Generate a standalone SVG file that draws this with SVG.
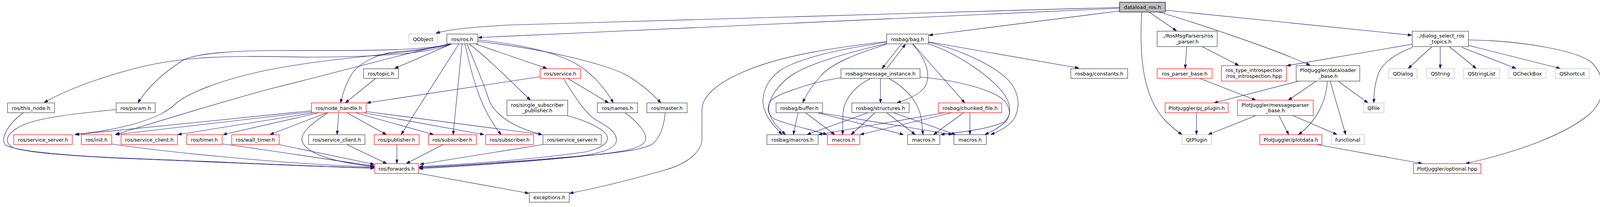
<svg xmlns="http://www.w3.org/2000/svg" width="4109" height="529" viewBox="0 0 4109 529">
<style>
.nd rect{fill:#fff;stroke:#404040;stroke-width:1.2}
.nd.red rect{stroke:#ff0000}
.nd.gray rect{stroke:#bfbfbf}
.nd.main rect{fill:#bfbfbf;stroke:#000}
.nd text{font-family:"DejaVu Sans","Liberation Sans",sans-serif;font-size:12.9px;text-anchor:middle;fill:#000}
#edges path{fill:none;stroke:#191970;stroke-width:1.1;marker-end:url(#ah)}
</style>
<defs>
<marker id="ah" viewBox="0 0 10 7" refX="10" refY="3.5" markerWidth="10" markerHeight="7" orient="auto" markerUnits="userSpaceOnUse">
<path d="M0,0 L10,3.5 L0,7z" fill="#191970" stroke="#191970" stroke-width="1"/>
</marker>
</defs>
<rect x="0" y="0" width="4109" height="529" fill="#fff"/>
<g id="edges">
<path d="M2866,19 C2200,37 1500,54 1300,64 C1200,70 1150,75 1116,85"/>
<path d="M2866,21 L1224,96"/>
<path d="M2866,28 L2378,90"/>
<path d="M2942,31 L3012,79"/>
<path d="M2968,31 C3050,55 3250,120 3354,167"/>
<path d="M2983,26 L3614,90"/>
<path d="M2923,31 C2916,140 2925,250 2985,310 C3000,325 3012,335 3026,344"/>
<path d="M3038,119 L3034,175"/>
<path d="M3077,119 L3171,167"/>
<path d="M3070,200 L3215,256"/>
<path d="M3326,207 L3108,263"/>
<path d="M3370,207 L3298,256"/>
<path d="M3398,207 C3395,260 3370,310 3324,344"/>
<path d="M3425,207 L3502,263"/>
<path d="M3405,207 L3445,344"/>
<path d="M3063,288 L3063,344"/>
<path d="M3216,295 L3093,344"/>
<path d="M3274,295 L3299,344"/>
<path d="M3309,295 L3423,344"/>
<path d="M3368,369 L3641,418"/>
<path d="M3615,113 L3294,168"/>
<path d="M3616,121 C3570,138 3540,162 3530,185 C3520,210 3517,240 3517,263"/>
<path d="M3666,119 L3605,175"/>
<path d="M3687,119 L3687,175"/>
<path d="M3710,119 L3779,175"/>
<path d="M3742,121 L3881,175"/>
<path d="M3759,116 L3994,175"/>
<path d="M3759,102 C3900,104 4040,130 4075,160 C4115,200 4110,260 4065,295 C4010,340 3900,385 3752,418"/>
<path d="M2308,112 L2258,175"/>
<path d="M2270,175 L2318,113"/>
<path d="M2270,113 C2200,135 2130,160 2100,195 C2080,218 2065,240 2055,262"/>
<path d="M2335,112 C2370,150 2385,190 2368,222 C2350,245 2320,255 2296,263"/>
<path d="M2337,112 L2470,263"/>
<path d="M2377,107 L2762,174"/>
<path d="M2377,108 C2470,130 2560,175 2590,215 C2610,245 2610,275 2598,300 C2585,322 2560,335 2536,344"/>
<path d="M2377,112 C2460,140 2540,200 2570,240 C2590,268 2588,295 2575,310 C2560,325 2540,336 2521,344"/>
<path d="M2355,197 C2450,205 2550,230 2575,262 C2590,285 2585,300 2570,312 C2530,330 2460,338 2408,344"/>
<path d="M2270,106 C2150,120 2000,140 1900,185 C1830,215 1797,250 1797,280 L1797,360 C1790,400 1740,425 1700,435 C1620,458 1530,480 1458,494"/>
<path d="M2270,108 C2150,125 2050,148 2000,178 C1968,200 1953,230 1953,260 C1955,295 1980,320 2002,344"/>
<path d="M2270,111 C2150,140 2050,168 2010,205 C1985,228 1967,255 1968,280 C1970,305 1990,325 2011,344"/>
<path d="M2153,199 C2100,205 2000,235 1975,255 C1960,275 1965,295 1985,305 C2020,320 2080,332 2117,344"/>
<path d="M2230,200 C2180,225 2160,260 2158,290 L2157,344"/>
<path d="M2254,200 L2254,263"/>
<path d="M2275,200 C2320,225 2350,260 2358,300 L2363,344"/>
<path d="M2043,288 L2031,344"/>
<path d="M2062,288 L2137,344"/>
<path d="M2092,288 L2313,344"/>
<path d="M2097,288 L2438,344"/>
<path d="M2222,288 L2066,344"/>
<path d="M2240,288 L2179,344"/>
<path d="M2270,288 L2343,344"/>
<path d="M2287,288 L2446,344"/>
<path d="M2418,288 L2095,344"/>
<path d="M2437,288 L2202,344"/>
<path d="M2467,288 L2390,344"/>
<path d="M2483,288 L2483,344"/>
<path d="M1157,112 C1080,128 1000,130 700,129 C600,130 500,135 467,155 C420,185 380,220 353,263"/>
<path d="M1157,112 C1100,135 1000,145 800,146 C650,145 500,135 345,175 C250,200 170,230 113,262"/>
<path d="M1157,112 C1050,140 850,145 680,180 C560,205 480,240 453,262 C430,285 400,300 340,318 C280,333 240,338 191,344"/>
<path d="M1157,112 C1080,125 1000,150 680,230 C500,280 380,318 295,344"/>
<path d="M1150,112 C1100,125 1050,130 1020,132 C970,135 920,160 900,190 C885,215 877,240 872,263"/>
<path d="M1157,112 L1010,175"/>
<path d="M1175,112 L1027,344"/>
<path d="M1183,112 L1160,344"/>
<path d="M1190,112 C1210,200 1230,280 1283,344"/>
<path d="M1195,112 C1220,170 1240,220 1250,250 C1265,300 1330,330 1388,344"/>
<path d="M1201,112 C1250,150 1300,200 1358,256"/>
<path d="M1216,112 L1400,175"/>
<path d="M1223,102 C1350,115 1450,140 1500,180 C1530,205 1555,235 1570,263"/>
<path d="M1223,106 C1400,125 1550,165 1600,190 C1640,212 1670,240 1692,263"/>
<path d="M1453,200 L1558,263"/>
<path d="M1383,196 L939,263"/>
<path d="M1442,200 C1470,245 1495,285 1523,305 C1560,325 1580,340 1578,360 C1575,380 1540,393 1470,400 C1300,415 1150,424 1073,428"/>
<path d="M1450,295 C1490,305 1540,325 1553,345 C1562,365 1540,378 1500,388 C1350,410 1150,422 1073,426"/>
<path d="M1600,288 C1630,310 1653,335 1653,355 C1650,375 1620,385 1527,395 C1350,413 1150,425 1073,429"/>
<path d="M1703,288 C1700,320 1690,355 1667,370 C1640,383 1600,388 1500,398 C1350,415 1150,427 1073,431"/>
<path d="M1392,369 L1075,420"/>
<path d="M1135,369 L1040,418"/>
<path d="M1016,369 L1016,418"/>
<path d="M887,369 L990,418"/>
<path d="M712,369 L958,420"/>
<path d="M840,288 C790,320 765,345 775,365 C790,395 860,415 958,426"/>
<path d="M570,368 C700,385 850,410 958,424"/>
<path d="M286,368 C400,385 700,418 958,427"/>
<path d="M60,288 C25,313 0,350 13,370 C40,388 200,400 345,405 C600,415 800,425 958,429"/>
<path d="M297,280 C200,290 80,300 40,330 C10,350 15,368 35,378 C80,393 250,402 345,406 C600,416 800,426 958,430"/>
<path d="M797,283 L193,344"/>
<path d="M797,286 L296,344"/>
<path d="M805,288 L455,344"/>
<path d="M817,288 L571,344"/>
<path d="M837,288 L691,344"/>
<path d="M867,288 L863,344"/>
<path d="M888,288 L989,344"/>
<path d="M910,288 L1110,344"/>
<path d="M930,288 L1239,344"/>
<path d="M937,285 L1388,344"/>
<path d="M962,200 L884,263"/>
<path d="M1072,443 L1354,494"/>
</g>
<g id="n_dataload" class="nd main"><rect x="2866" y="5.7" width="117.3" height="25"/><text x="2924.7" y="23.2">dataload_ros.h</text></g>
<g id="n_qobject" class="nd gray"><rect x="1046.7" y="87" width="73.3" height="25"/><text x="1083.3" y="104.5">QObject</text></g>
<g id="n_ros" class="nd"><rect x="1144" y="87" width="79" height="25"/><text x="1183.5" y="104.5">ros/ros.h</text></g>
<g id="n_bag" class="nd"><rect x="2270" y="87" width="106.7" height="25"/><text x="2323.3" y="104.5">rosbag/bag.h</text></g>
<g id="n_rosparser" class="nd"><rect x="2962.3" y="79.7" width="153.7" height="39.3"/><text x="3039.2" y="96.3">../RosMsgParsers/ros</text><text x="3039.2" y="111">_parser.h</text></g>
<g id="n_dataloader" class="nd"><rect x="3318.3" y="167.7" width="162.7" height="39.6"/><text x="3399.7" y="184.3">PlotJuggler/dataloader</text><text x="3399.7" y="199">_base.h</text></g>
<g id="n_dialog" class="nd"><rect x="3615.3" y="79.7" width="144" height="39.3"/><text x="3687.3" y="96.3">../dialog_select_ros</text><text x="3687.3" y="111">_topics.h</text></g>
<g id="n_qtplugin" class="nd gray"><rect x="3026" y="344.3" width="74.7" height="25"/><text x="3063.3" y="361.8">QtPlugin</text></g>
<g id="n_parserbase" class="nd red"><rect x="2962.3" y="175.7" width="140.7" height="24.6"/><text x="3032.7" y="193.2">ros_parser_base.h</text></g>
<g id="n_rti" class="nd red"><rect x="3126.7" y="167.7" width="166.6" height="39.6"/><text x="3210" y="184.3">ros_type_introspection</text><text x="3210" y="199">/ros_introspection.hpp</text></g>
<g id="n_msgparser" class="nd red"><rect x="3168" y="256" width="193.7" height="39.3"/><text x="3264.8" y="272.6">PlotJuggler/messageparser</text><text x="3264.8" y="287.3">_base.h</text></g>
<g id="n_pjplugin" class="nd red"><rect x="2982.7" y="263" width="161.3" height="25"/><text x="3063.3" y="280.5">PlotJuggler/pj_plugin.h</text></g>
<g id="n_plotdata" class="nd red"><rect x="3225.3" y="344.3" width="158.7" height="25"/><text x="3304.7" y="361.8">PlotJuggler/plotdata.h</text></g>
<g id="n_functional" class="nd gray"><rect x="3408" y="344.3" width="84.3" height="25"/><text x="3450.2" y="361.8">functional</text></g>
<g id="n_qfile" class="nd gray"><rect x="3490.3" y="263" width="52.7" height="25"/><text x="3516.7" y="280.5">QFile</text></g>
<g id="n_optional" class="nd red"><rect x="3618.3" y="418.3" width="172.7" height="25"/><text x="3704.7" y="435.8">PlotJuggler/optional.hpp</text></g>
<g id="n_qdialog" class="nd gray"><rect x="3555.3" y="175.7" width="72.4" height="24.6"/><text x="3591.5" y="193.2">QDialog</text></g>
<g id="n_qstring" class="nd gray"><rect x="3652" y="175.7" width="71" height="24.6"/><text x="3687.5" y="193.2">QString</text></g>
<g id="n_qstringlist" class="nd gray"><rect x="3746.7" y="175.7" width="92.3" height="24.6"/><text x="3792.8" y="193.2">QStringList</text></g>
<g id="n_qcheckbox" class="nd gray"><rect x="3862.7" y="175.7" width="95" height="24.6"/><text x="3910.2" y="193.2">QCheckBox</text></g>
<g id="n_qshortcut" class="nd gray"><rect x="3981.3" y="175.7" width="87" height="24.6"/><text x="4024.8" y="193.2">QShortcut</text></g>
<g id="n_msginst" class="nd"><rect x="2152.7" y="175.7" width="202.6" height="24.6"/><text x="2254" y="193.2">rosbag/message_instance.h</text></g>
<g id="n_constants" class="nd"><rect x="2741.3" y="175.7" width="145.4" height="24.6"/><text x="2814" y="193.2">rosbag/constants.h</text></g>
<g id="n_buffer" class="nd"><rect x="1986.7" y="263" width="119" height="25"/><text x="2046.2" y="280.5">rosbag/buffer.h</text></g>
<g id="n_structures" class="nd"><rect x="2180.7" y="263" width="146.6" height="25"/><text x="2254" y="280.5">rosbag/structures.h</text></g>
<g id="n_chunked" class="nd red"><rect x="2402.3" y="263" width="162" height="25"/><text x="2483.3" y="280.5">rosbag/chunked_file.h</text></g>
<g id="n_rbmacros" class="nd"><rect x="1963.3" y="344.3" width="131" height="25"/><text x="2028.8" y="361.8">rosbag/macros.h</text></g>
<g id="n_macros_r" class="nd red"><rect x="2118" y="344.3" width="83" height="25"/><text x="2159.5" y="361.8">macros.h</text></g>
<g id="n_macros_1" class="nd"><rect x="2323.3" y="344.3" width="82.7" height="25"/><text x="2364.7" y="361.8">macros.h</text></g>
<g id="n_macros_2" class="nd"><rect x="2442" y="344.3" width="83" height="25"/><text x="2483.5" y="361.8">macros.h</text></g>
<g id="n_exceptions" class="nd"><rect x="1355" y="491.7" width="102.3" height="25"/><text x="1406.2" y="509.2">exceptions.h</text></g>
<g id="n_thisnode" class="nd"><rect x="19.3" y="263" width="120.4" height="25"/><text x="79.5" y="280.5">ros/this_node.h</text></g>
<g id="n_param" class="nd"><rect x="297.3" y="263" width="100" height="25"/><text x="347.3" y="280.5">ros/param.h</text></g>
<g id="n_nodehandle" class="nd red"><rect x="797.3" y="263" width="140" height="25"/><text x="867.3" y="280.5">ros/node_handle.h</text></g>
<g id="n_topic" class="nd"><rect x="930.7" y="175.7" width="89.3" height="24.6"/><text x="975.3" y="193.2">ros/topic.h</text></g>
<g id="n_service" class="nd red"><rect x="1382.7" y="175.7" width="103" height="24.6"/><text x="1434.2" y="193.2">ros/service.h</text></g>
<g id="n_names" class="nd"><rect x="1529.3" y="263" width="103" height="25"/><text x="1580.8" y="280.5">ros/names.h</text></g>
<g id="n_master" class="nd"><rect x="1656" y="263" width="103" height="25"/><text x="1707.5" y="280.5">ros/master.h</text></g>
<g id="n_singlesub" class="nd"><rect x="1297.7" y="256" width="155.6" height="39.3"/><text x="1375.5" y="272.6">ros/single_subscriber</text><text x="1375.5" y="287.3">_publisher.h</text></g>
<g id="n_srvserver_r" class="nd red"><rect x="35.3" y="344.3" width="149.7" height="25"/><text x="110.2" y="361.8">ros/service_server.h</text></g>
<g id="n_init" class="nd red"><rect x="208.3" y="344.3" width="77.7" height="25"/><text x="247.2" y="361.8">ros/init.h</text></g>
<g id="n_srvclient_r" class="nd red"><rect x="310" y="344.3" width="144.3" height="25"/><text x="382.2" y="361.8">ros/service_client.h</text></g>
<g id="n_timer" class="nd red"><rect x="478" y="344.3" width="90.7" height="25"/><text x="523.3" y="361.8">ros/timer.h</text></g>
<g id="n_walltimer" class="nd red"><rect x="593.3" y="344.3" width="121.4" height="25"/><text x="654" y="361.8">ros/wall_timer.h</text></g>
<g id="n_srvclient" class="nd"><rect x="790" y="344.3" width="144.3" height="25"/><text x="862.2" y="361.8">ros/service_client.h</text></g>
<g id="n_publisher" class="nd red"><rect x="958" y="344.3" width="115" height="25"/><text x="1015.5" y="361.8">ros/publisher.h</text></g>
<g id="n_subscriber1" class="nd red"><rect x="1096.7" y="344.3" width="122.6" height="25"/><text x="1158" y="361.8">ros/subscriber.h</text></g>
<g id="n_subscriber2" class="nd red"><rect x="1243.3" y="344.3" width="122.7" height="25"/><text x="1304.7" y="361.8">ros/subscriber.h</text></g>
<g id="n_srvserver" class="nd"><rect x="1390" y="344.3" width="149.3" height="25"/><text x="1464.7" y="361.8">ros/service_server.h</text></g>
<g id="n_forwards" class="nd red"><rect x="959.3" y="418.3" width="112" height="25"/><text x="1015.3" y="435.8">ros/forwards.h</text></g>
</svg>
